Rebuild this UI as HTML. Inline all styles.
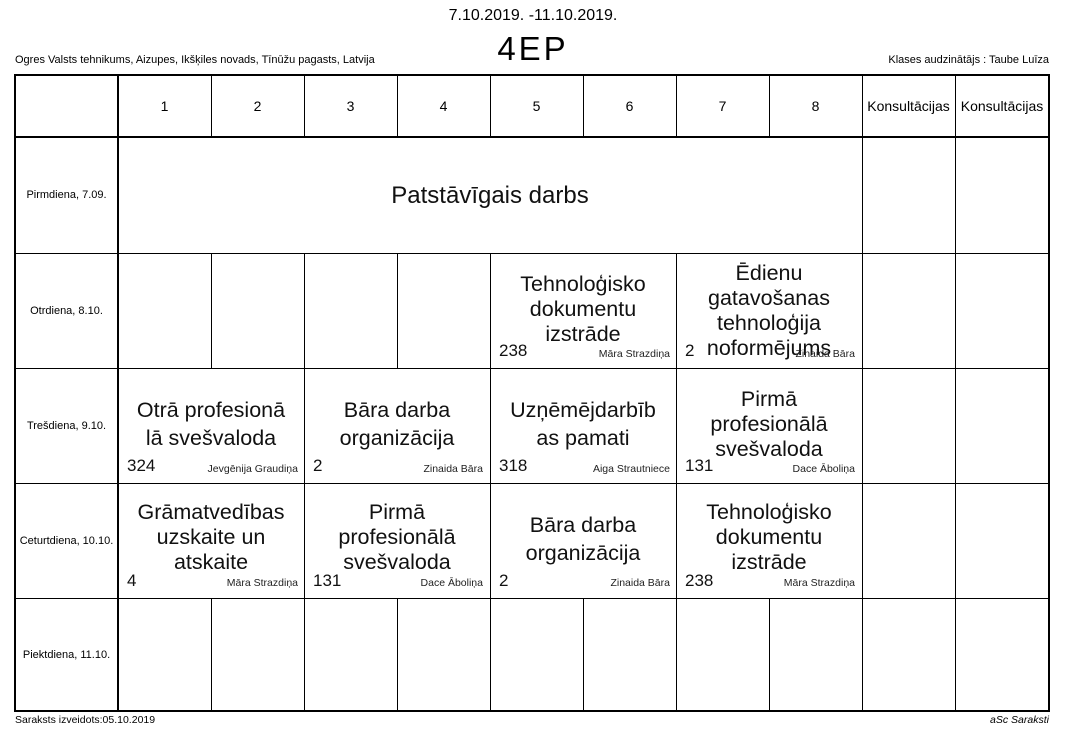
<!DOCTYPE html>
<html><head><meta charset="utf-8"><style>
body{margin:0;width:1066px;height:751px;background:#fff;position:relative;font-family:"Liberation Sans",Arial,sans-serif;color:#000;overflow:hidden}
.a{position:absolute;white-space:nowrap}
.h{position:absolute;background:#000;height:1px}
.v{position:absolute;background:#000;width:1px}
.c{position:absolute;display:flex;align-items:center;justify-content:center;text-align:center;font-size:21.5px;line-height:25px;color:#111;white-space:nowrap}
.n{position:absolute;font-size:17px;color:#111}
.t{position:absolute;font-size:10.5px;color:#222;text-align:right;white-space:nowrap}
.d{position:absolute;font-size:11px;display:flex;align-items:center;justify-content:center;left:15px;width:103px;white-space:nowrap}
.hd{position:absolute;top:75px;height:62px;display:flex;align-items:center;justify-content:center;font-size:14px}
</style></head><body>
<div class="a" style="left:0;width:1066px;top:7px;text-align:center;font-size:16px">7.10.2019. -11.10.2019.</div>
<div class="a" style="left:0;width:1066px;top:30px;text-align:center;font-size:33px;letter-spacing:3px">4EP</div>
<div class="a" style="left:15px;top:54px;font-size:11px">Ogres Valsts tehnikums, Aizupes, Ikšķiles novads, Tīnūžu pagasts, Latvija</div>
<div class="a" style="right:17px;top:54px;font-size:11px">Klases audzinātājs : Taube Luīza</div>
<div class="a" style="left:15px;top:714px;font-size:10.5px">Saraksts izveidots:05.10.2019</div>
<div class="a" style="right:17px;top:714px;font-size:10.5px;font-style:italic">aSc Saraksti</div>

<div class="a" style="left:14px;top:74px;width:1032px;height:634px;border:2px solid #000"></div>
<div class="h" style="left:15px;width:1034px;top:136px;height:2px"></div>
<div class="h" style="left:15px;width:1034px;top:253px"></div>
<div class="h" style="left:15px;width:1034px;top:368px"></div>
<div class="h" style="left:15px;width:1034px;top:483px"></div>
<div class="h" style="left:15px;width:1034px;top:598px"></div>
<div class="v" style="left:117px;top:75px;height:636px;width:2px"></div>
<div class="v" style="left:211px;top:75px;height:62px"></div>
<div class="v" style="left:304px;top:75px;height:62px"></div>
<div class="v" style="left:397px;top:75px;height:62px"></div>
<div class="v" style="left:490px;top:75px;height:62px"></div>
<div class="v" style="left:583px;top:75px;height:62px"></div>
<div class="v" style="left:676px;top:75px;height:62px"></div>
<div class="v" style="left:769px;top:75px;height:62px"></div>
<div class="v" style="left:862px;top:75px;height:636px"></div>
<div class="v" style="left:955px;top:75px;height:636px"></div>
<div class="v" style="left:211px;top:253px;height:115px"></div>
<div class="v" style="left:304px;top:253px;height:115px"></div>
<div class="v" style="left:397px;top:253px;height:115px"></div>
<div class="v" style="left:490px;top:253px;height:115px"></div>
<div class="v" style="left:676px;top:253px;height:115px"></div>
<div class="v" style="left:304px;top:368px;height:230px"></div>
<div class="v" style="left:490px;top:368px;height:230px"></div>
<div class="v" style="left:676px;top:368px;height:230px"></div>
<div class="v" style="left:211px;top:598px;height:113px"></div>
<div class="v" style="left:304px;top:598px;height:113px"></div>
<div class="v" style="left:397px;top:598px;height:113px"></div>
<div class="v" style="left:490px;top:598px;height:113px"></div>
<div class="v" style="left:583px;top:598px;height:113px"></div>
<div class="v" style="left:676px;top:598px;height:113px"></div>
<div class="v" style="left:769px;top:598px;height:113px"></div>

<div class="hd" style="left:118px;width:93px">1</div>
<div class="hd" style="left:211px;width:93px">2</div>
<div class="hd" style="left:304px;width:93px">3</div>
<div class="hd" style="left:397px;width:93px">4</div>
<div class="hd" style="left:490px;width:93px">5</div>
<div class="hd" style="left:583px;width:93px">6</div>
<div class="hd" style="left:676px;width:93px">7</div>
<div class="hd" style="left:769px;width:93px">8</div>
<div class="hd" style="left:862px;width:93px">Konsultācijas</div>
<div class="hd" style="left:955px;width:94px">Konsultācijas</div>

<div class="d" style="top:137px;height:116px">Pirmdiena, 7.09.</div>
<div class="d" style="top:253px;height:115px">Otrdiena, 8.10.</div>
<div class="d" style="top:368px;height:115px">Trešdiena, 9.10.</div>
<div class="d" style="top:483px;height:115px">Ceturtdiena, 10.10.</div>
<div class="d" style="top:598px;height:113px">Piektdiena, 11.10.</div>

<div class="c" style="left:118px;width:744px;top:137px;height:116px;font-size:24px">Patstāvīgais darbs</div>

<div class="c" style="left:490px;width:186px;top:253px;height:112px">Tehnoloģisko<br>dokumentu<br>izstrāde</div>
<div class="n" style="left:499px;top:341px">238</div><div class="t" style="left:560px;width:110px;top:348px">Māra Strazdiņa</div>
<div class="c" style="left:676px;width:186px;top:253px;height:115px">Ēdienu<br>gatavošanas<br>tehnoloģija<br>noformējums</div>
<div class="n" style="left:685px;top:341px">2</div><div class="t" style="left:745px;width:110px;top:348px">Zinaida Bāra</div>

<div class="c" style="left:118px;width:186px;top:368px;height:112px;line-height:28px">Otrā profesionā<br>lā svešvaloda</div>
<div class="n" style="left:127px;top:456px">324</div><div class="t" style="left:180px;width:118px;top:463px">Jevgēnija Graudiņa</div>
<div class="c" style="left:304px;width:186px;top:368px;height:112px;line-height:28px">Bāra darba<br>organizācija</div>
<div class="n" style="left:313px;top:456px">2</div><div class="t" style="left:370px;width:113px;top:463px">Zinaida Bāra</div>
<div class="c" style="left:490px;width:186px;top:368px;height:112px;line-height:28px">Uzņēmējdarbīb<br>as pamati</div>
<div class="n" style="left:499px;top:456px">318</div><div class="t" style="left:560px;width:110px;top:463px">Aiga Strautniece</div>
<div class="c" style="left:676px;width:186px;top:368px;height:112px">Pirmā<br>profesionālā<br>svešvaloda</div>
<div class="n" style="left:685px;top:456px">131</div><div class="t" style="left:745px;width:110px;top:463px">Dace Āboliņa</div>

<div class="c" style="left:118px;width:186px;top:483px;height:109px">Grāmatvedības<br>uzskaite un<br>atskaite</div>
<div class="n" style="left:127px;top:571px">4</div><div class="t" style="left:180px;width:118px;top:577px">Māra Strazdiņa</div>
<div class="c" style="left:304px;width:186px;top:483px;height:109px">Pirmā<br>profesionālā<br>svešvaloda</div>
<div class="n" style="left:313px;top:571px">131</div><div class="t" style="left:370px;width:113px;top:577px">Dace Āboliņa</div>
<div class="c" style="left:490px;width:186px;top:483px;height:112px;line-height:28px">Bāra darba<br>organizācija</div>
<div class="n" style="left:499px;top:571px">2</div><div class="t" style="left:560px;width:110px;top:577px">Zinaida Bāra</div>
<div class="c" style="left:676px;width:186px;top:483px;height:109px">Tehnoloģisko<br>dokumentu<br>izstrāde</div>
<div class="n" style="left:685px;top:571px">238</div><div class="t" style="left:745px;width:110px;top:577px">Māra Strazdiņa</div>
</body></html>
